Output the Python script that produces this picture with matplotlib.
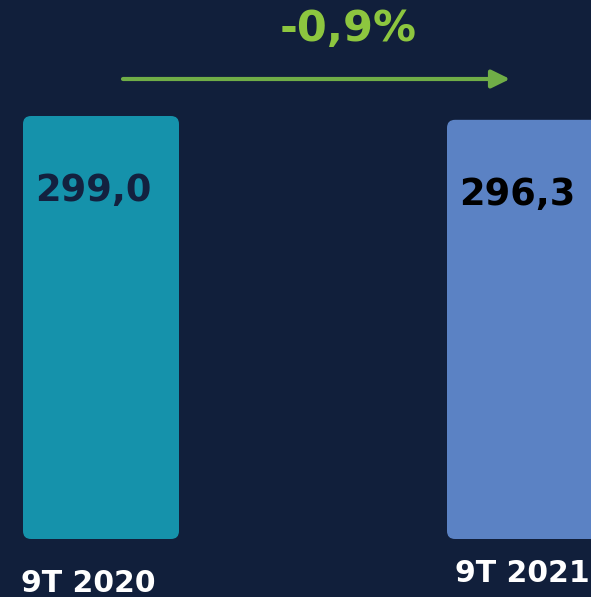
import matplotlib
matplotlib.use("Agg")
import matplotlib.pyplot as plt
from matplotlib.patches import FancyBboxPatch

# datos
categorias = ["9T 2020", "9T 2021"]
valores = [299.0, 296.3]
etiquetas = ["299,0", "296,3"]
variacion = "-0,9%"

fondo = "#111f3b"
colores = ["#1592ab", "#5b82c4"]
color_etiqueta = ["#13213f", "#000000"]

W, H = 591, 597
fig = plt.figure(figsize=(W / 100, H / 100), dpi=100)
fig.patch.set_facecolor(fondo)
ax = fig.add_axes([0, 0, 1, 1])
ax.set_facecolor(fondo)

# escalas: 424 px por categoria, 1.4147 px por unidad
px_x = 424
px_y = 1.4147
base_px = 597 - 539  # linea base desde abajo
ax.set_xlim(-101 / px_x, (W - 101) / px_x)
ax.set_ylim(-base_px / px_y, (H - base_px) / px_y)
ax.axis("off")

x = list(range(len(categorias)))
barras = ax.bar(x, valores, width=156 / px_x, color=colores)

# redondear esquinas
aspecto = (1 / px_y) / (1 / px_x)
for b, c in zip(barras, colores):
    b.set_visible(False)
    p = FancyBboxPatch((b.get_x(), b.get_y()), b.get_width(), b.get_height(),
                       boxstyle="round,pad=0,rounding_size=%f" % (8 / px_x),
                       mutation_aspect=aspecto, facecolor=c, edgecolor="none")
    ax.add_patch(p)

# etiquetas de valor
for i, (v, t) in enumerate(zip(valores, etiquetas)):
    ax.text(i - 0.018, v - 53, t, ha="center", va="center", fontsize=26.5,
            fontweight="bold", color=color_etiqueta[i])

# etiquetas de categoria
desp_x = [-0.031, -0.007]
desp_y = [-53 / px_y, -43 / px_y]
for i, c in enumerate(categorias):
    ax.text(i + desp_x[i], desp_y[i], c, ha="center", va="baseline",
            fontsize=21.5, fontweight="bold", color="white")

# flecha y variacion
fig.text(348 / W, 1 - 41 / H, variacion, ha="center", va="baseline",
         fontsize=31, fontweight="bold", color="#8dc63f")
ax.annotate("", xy=(510 / W, 1 - 79 / H), xytext=(123 / W, 1 - 79 / H),
            xycoords="figure fraction", textcoords="figure fraction",
            arrowprops=dict(arrowstyle="-|>,head_length=0.55,head_width=0.27",
                            mutation_scale=20, lw=3, color="#70ad47",
                            shrinkA=0, shrinkB=0))

fig.savefig("out.png", dpi=100, facecolor=fondo)
